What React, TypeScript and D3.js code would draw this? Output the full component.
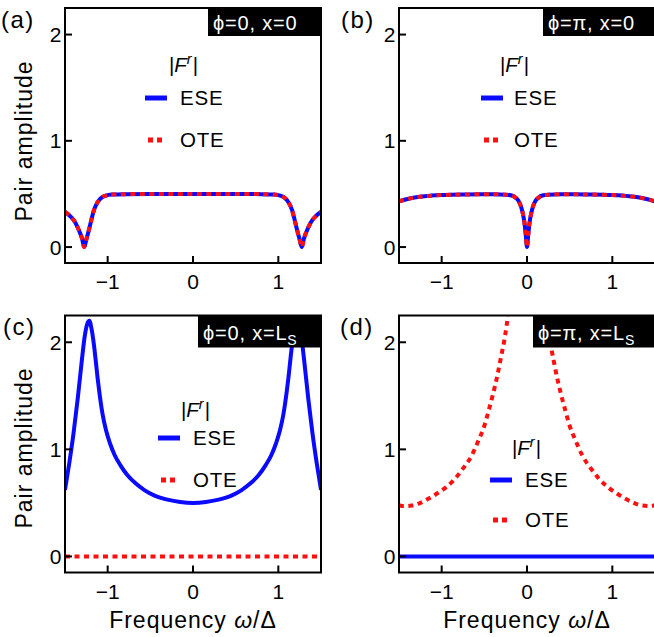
import React from "react";
import * as d3 from "d3";

// ---------- data ----------
const xDomain: [number, number] = [-1.5, 1.5];
const yDomain: [number, number] = [-0.15, 2.25];
const xTickValues = [-1, 0, 1];
const xTickLabels = ["−1", "0", "1"];
const yTickValues = [0, 1, 2];
const yTickLabels = ["0", "1", "2"];

const panelLabels = ["(a)", "(b)", "(c)", "(d)"];
const phaseLabels = ["ϕ=0, ", "ϕ=π, ", "ϕ=0, ", "ϕ=π, "];
const positionLabels = ["x=0", "x=0", "x=L", "x=L"];
const positionSubs = ["", "", "S", "S"];
const seriesNames = ["ESE", "OTE"];
const legendTitle = "F";
const legendSup = "r";
const xAxisTitle = "Frequency ";
const xAxisVar = "ω";
const xAxisTail = "/Δ";
const yAxisTitle = "Pair amplitude";

// (a) phi=0, x=0  (ESE and OTE coincide)
const omegaA = [-1.5, -1.45, -1.4, -1.36, -1.33, -1.3, -1.275, -1.25, -1.22, -1.19, -1.16, -1.12, -1.08, -1.02, -0.95, -0.8, -0.5, 0, 0.5, 0.8, 0.95, 1.02, 1.08, 1.12, 1.16, 1.19, 1.22, 1.25, 1.275, 1.3, 1.33, 1.36, 1.4, 1.45, 1.5];
const eseA = [0.33, 0.3, 0.255, 0.2, 0.145, 0.08, 0.0, 0.07, 0.16, 0.26, 0.35, 0.42, 0.46, 0.485, 0.494, 0.498, 0.5, 0.5, 0.5, 0.498, 0.494, 0.485, 0.46, 0.42, 0.35, 0.26, 0.16, 0.07, 0.0, 0.08, 0.145, 0.2, 0.255, 0.3, 0.33];
const oteA = [0.33, 0.3, 0.255, 0.2, 0.145, 0.08, 0.0, 0.07, 0.16, 0.26, 0.35, 0.42, 0.46, 0.485, 0.494, 0.498, 0.5, 0.5, 0.5, 0.498, 0.494, 0.485, 0.46, 0.42, 0.35, 0.26, 0.16, 0.07, 0.0, 0.08, 0.145, 0.2, 0.255, 0.3, 0.33];

// (b) phi=pi, x=0  (ESE and OTE coincide)
const omegaB = [-1.5, -1.4, -1.3, -1.2, -1.0, -0.7, -0.4, -0.25, -0.18, -0.13, -0.1, -0.07, -0.05, -0.03, -0.015, 0, 0.015, 0.03, 0.05, 0.07, 0.1, 0.13, 0.18, 0.25, 0.4, 0.7, 1.0, 1.2, 1.3, 1.4, 1.5];
const eseB = [0.43, 0.452, 0.468, 0.478, 0.489, 0.495, 0.497, 0.493, 0.485, 0.462, 0.435, 0.38, 0.32, 0.23, 0.12, 0.0, 0.12, 0.23, 0.32, 0.38, 0.435, 0.462, 0.485, 0.493, 0.497, 0.495, 0.489, 0.478, 0.468, 0.452, 0.43];
const oteB = [0.43, 0.452, 0.468, 0.478, 0.489, 0.495, 0.497, 0.493, 0.485, 0.462, 0.435, 0.38, 0.32, 0.23, 0.12, 0.0, 0.12, 0.23, 0.32, 0.38, 0.435, 0.462, 0.485, 0.493, 0.497, 0.495, 0.489, 0.478, 0.468, 0.452, 0.43];

// (c) phi=0, x=L_S
const omegaC = [-1.5, -1.45, -1.4, -1.35, -1.3, -1.27, -1.24, -1.215, -1.19, -1.16, -1.14, -1.12, -1.1, -1.06, -1.02, -0.97, -0.92, -0.85, -0.77, -0.67, -0.57, -0.45, -0.3, -0.15, 0, 0.15, 0.3, 0.45, 0.57, 0.67, 0.77, 0.85, 0.92, 0.97, 1.02, 1.06, 1.1, 1.12, 1.14, 1.16, 1.19, 1.215, 1.24, 1.27, 1.3, 1.35, 1.4, 1.45, 1.5];
const eseC = [0.62, 0.87, 1.15, 1.48, 1.85, 2.05, 2.17, 2.2, 2.13, 1.97, 1.83, 1.68, 1.55, 1.33, 1.18, 1.05, 0.95, 0.85, 0.76, 0.68, 0.62, 0.568, 0.53, 0.508, 0.5, 0.508, 0.53, 0.568, 0.62, 0.68, 0.76, 0.85, 0.95, 1.05, 1.18, 1.33, 1.55, 1.68, 1.83, 1.97, 2.13, 2.2, 2.17, 2.05, 1.85, 1.48, 1.15, 0.87, 0.62];
const omegaC2 = [-1.5, 1.5];
const oteC = [0, 0];

// (d) phi=pi, x=L_S
const omegaD = [-1.5, -1.45, -1.35, -1.25, -1.14, -1.05, -0.95, -0.85, -0.76, -0.65, -0.565, -0.5, -0.45, -0.4, -0.35, -0.3, -0.27, -0.24, -0.21, -0.18, 0.18, 0.21, 0.24, 0.27, 0.3, 0.35, 0.4, 0.45, 0.5, 0.565, 0.65, 0.76, 0.85, 0.95, 1.05, 1.14, 1.25, 1.35, 1.45, 1.5];
const oteD = [0.48, 0.47, 0.475, 0.5, 0.545, 0.59, 0.645, 0.72, 0.81, 0.94, 1.09, 1.22, 1.36, 1.51, 1.68, 1.88, 2.0, 2.15, 2.35, 2.6, 2.6, 2.35, 2.15, 2.0, 1.88, 1.68, 1.51, 1.36, 1.22, 1.09, 0.94, 0.81, 0.72, 0.645, 0.59, 0.545, 0.5, 0.475, 0.47, 0.48];
const omegaD2 = [-1.5, 1.5];
const eseD = [0, 0];

// ---------- styling / layout ----------
const FONT = "'Liberation Sans', Arial, Helvetica, sans-serif";
const BLUE = "#0a0aff";
const RED = "#ff1010";
const PW = 256;

const zip = (xs: number[], ys: number[]) => xs.map((x, i) => [x, ys[i]] as [number, number]);

const panels = [
  { ese: zip(omegaA, eseA), ote: zip(omegaA, oteA),
    left: 65, top: 8, h: 255, boxW: 113, boxH: 28, boxBase: 21.5, lab: [1, 28],
    leg: { fx: 169, fy: 72, lx: 145, ey: 98, oy: 140, tx: 180 }, yLabelY: 141, showY: true, showX: false },
  { ese: zip(omegaB, eseB), ote: zip(omegaB, oteB),
    left: 399, top: 8, h: 255, boxW: 112, boxH: 28, boxBase: 21.5, lab: [341, 28],
    leg: { fx: 500, fy: 72, lx: 481, ey: 98, oy: 140, tx: 514 }, yLabelY: 141, showY: false, showX: false },
  { ese: zip(omegaC, eseC), ote: zip(omegaC2, oteC),
    left: 65, top: 315.5, h: 257, boxW: 123, boxH: 32, boxBase: 24, lab: [3, 335],
    leg: { fx: 181, fy: 417, lx: 158, ey: 438, oy: 480, tx: 193 }, yLabelY: 448, showY: true, showX: true },
  { ese: zip(omegaD2, eseD), ote: zip(omegaD, oteD),
    left: 399, top: 315.5, h: 257, boxW: 122, boxH: 32, boxBase: 24, lab: [340, 335],
    leg: { fx: 512, fy: 455, lx: 490, ey: 480, oy: 520, tx: 525 }, yLabelY: 448, showY: false, showX: true },
];

function Panel({ i }: { i: number }) {
  const p = panels[i];
  const x = d3.scaleLinear().domain(xDomain).range([p.left, p.left + PW]);
  const y = d3.scaleLinear().domain(yDomain).range([p.top + p.h, p.top]);
  const line = d3
    .line<[number, number]>()
    .x((d) => x(d[0]))
    .y((d) => y(d[1]))
    .curve(d3.curveMonotoneX);
  const clipId = `clip-${i}`;
  const right = p.left + PW;
  const bottom = p.top + p.h;
  const L = p.leg;
  return (
    <g>
      <defs>
        <clipPath id={clipId}>
          <rect x={p.left} y={p.top} width={PW} height={p.h} />
        </clipPath>
      </defs>
      <g clipPath={`url(#${clipId})`}>
        <path d={line(p.ese) || ""} fill="none" stroke={BLUE} strokeWidth={4} />
        <path d={line(p.ote) || ""} fill="none" stroke={RED} strokeWidth={4} strokeDasharray="5,4.5" />
      </g>
      {/* frame */}
      <rect x={p.left} y={p.top} width={PW} height={p.h} fill="none" stroke="#000" strokeWidth={2} />
      {/* ticks */}
      {xTickValues.map((v, k) => (
        <g key={`xt${k}`}>
          <line x1={x(v)} x2={x(v)} y1={bottom} y2={bottom - 7} stroke="#000" strokeWidth={2} />
          <text x={x(v)} y={bottom + 26} textAnchor="middle" fontSize={21} fontFamily={FONT}>
            {xTickLabels[k]}
          </text>
        </g>
      ))}
      {yTickValues.map((v, k) => (
        <g key={`yt${k}`}>
          <line x1={p.left} x2={p.left + 7} y1={y(v)} y2={y(v)} stroke="#000" strokeWidth={2} />
          <text x={p.left - 3.5} y={y(v) + 7.5} textAnchor="end" fontSize={21} fontFamily={FONT}>
            {yTickLabels[k]}
          </text>
        </g>
      ))}
      {/* title box */}
      <rect x={right - p.boxW} y={p.top} width={p.boxW} height={p.boxH} fill="#000" />
      <text x={right - p.boxW + 5} y={p.top + p.boxBase} fontSize={20} fontFamily={FONT} fill="#fff" letterSpacing={0.8}>
        {phaseLabels[i]}
        {positionLabels[i]}
        {positionSubs[i] && (
          <tspan fontSize={14} dy={5}>
            {positionSubs[i]}
          </tspan>
        )}
      </text>
      {/* panel label */}
      <text x={p.lab[0]} y={p.lab[1]} fontSize={24} fontFamily={FONT} letterSpacing={1.5}>
        {panelLabels[i]}
      </text>
      {/* legend */}
      <text x={L.fx} y={L.fy} fontSize={20.5} fontFamily={FONT}>
        |<tspan fontStyle="italic">{legendTitle}</tspan>
        <tspan fontStyle="italic" fontSize={14.5} dy={-8}>
          {legendSup}
        </tspan>
        <tspan dy={8} dx={1}>|</tspan>
      </text>
      <line x1={L.lx} x2={L.lx + 22} y1={L.ey} y2={L.ey} stroke={BLUE} strokeWidth={5} />
      <text x={L.tx} y={L.ey + 7.3} fontSize={20.5} fontFamily={FONT} letterSpacing={0.8}>
        {seriesNames[0]}
      </text>
      <line x1={L.lx + 3} x2={L.lx + 17} y1={L.oy} y2={L.oy} stroke={RED} strokeWidth={5} strokeDasharray="5,4" />
      <text x={L.tx} y={L.oy + 7.3} fontSize={20.5} fontFamily={FONT} letterSpacing={0.8}>
        {seriesNames[1]}
      </text>
      {/* axis titles */}
      {p.showY && (
        <text
          transform={`translate(31.5,${p.yLabelY}) rotate(-90)`}
          textAnchor="middle"
          fontSize={23}
          fontFamily={FONT}
          letterSpacing={1}
        >
          {yAxisTitle}
        </text>
      )}
      {p.showX && (
        <text x={p.left + PW / 2} y={628} textAnchor="middle" fontSize={23} fontFamily={FONT} letterSpacing={1}>
          {xAxisTitle}
          <tspan fontStyle="italic">{xAxisVar}</tspan>
          {xAxisTail}
        </text>
      )}
    </g>
  );
}

export default function App() {
  return (
    <svg width={654} height={637} style={{ position: "absolute", left: 0, top: 0, background: "#fff" }}>
      <rect x={0} y={0} width={654} height={637} fill="#fff" />
      {panels.map((_, i) => (
        <Panel key={i} i={i} />
      ))}
    </svg>
  );
}
